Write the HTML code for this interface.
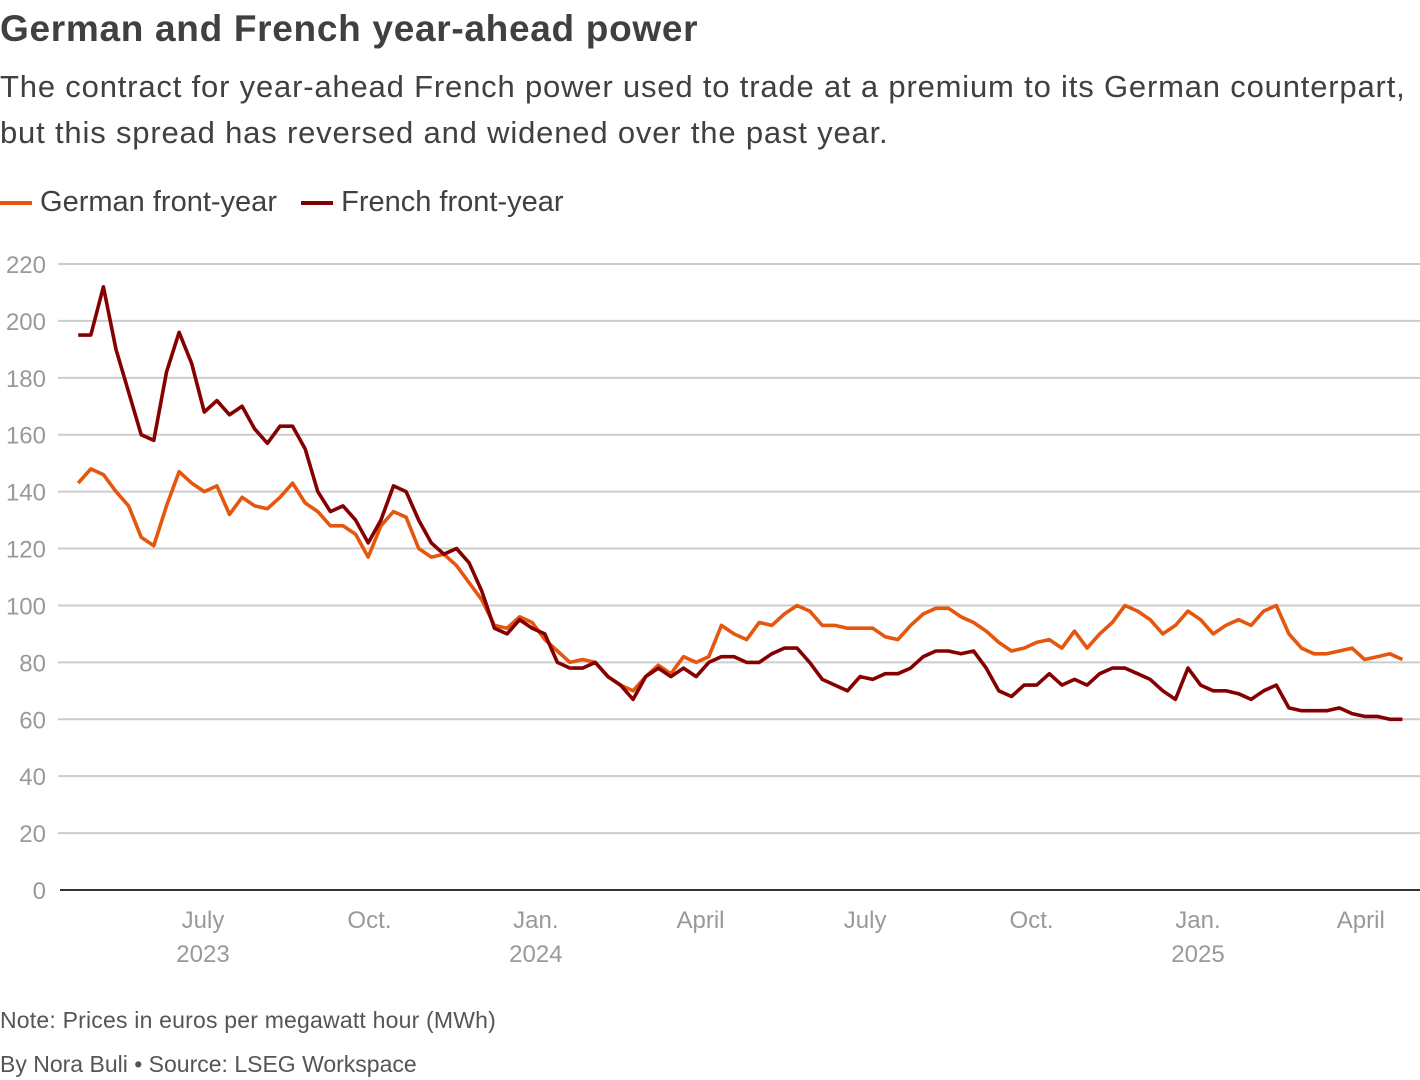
<!DOCTYPE html>
<html><head><meta charset="utf-8">
<style>
body{margin:0;width:1420px;height:1080px;background:#fff;font-family:"Liberation Sans",sans-serif;overflow:hidden;position:relative}
.t{position:absolute;left:0;white-space:nowrap}
</style></head><body>
<div class="t" style="top:8px;font-size:37px;font-weight:bold;color:#404040;letter-spacing:0.7px">German and French year-ahead power</div>
<div class="t" style="top:64px;font-size:31px;color:#404040;line-height:46px;letter-spacing:0.82px">The contract for year-ahead French power used to trade at a premium to its German counterpart,<br>but this spread has reversed and widened over the past year.</div>
<div class="t" style="top:186px;font-size:29px;color:#404040">
<span><span style="display:inline-block;width:32px;height:4px;background:#e5570f;vertical-align:middle"></span> German front-year</span>
<span style="margin-left:16px"><span style="display:inline-block;width:32px;height:4px;background:#850000;vertical-align:middle"></span> French front-year</span>
</div>
<svg id="chart" width="1420" height="1000" style="position:absolute;left:0;top:0"></svg>
<div class="t" style="top:1007px;font-size:23px;color:#555;letter-spacing:0.2px">Note: Prices in euros per megawatt hour (MWh)</div>
<div class="t" style="top:1051px;font-size:23px;color:#555">By Nora Buli • Source: LSEG Workspace</div>
<script>
const yTicks=[0,20,40,60,80,100,120,140,160,180,200,220];
const xTickLabels=[["July","2023"],["Oct.",""],["Jan.","2024"],["April",""],["July",""],["Oct.",""],["Jan.","2025"],["April",""]];
const xTickDates=["2023-07-01","2023-10-01","2024-01-01","2024-04-01","2024-07-01","2024-10-01","2025-01-01","2025-04-01"];
const startDate="2023-04-23";
const french=[195,195,212,190,175,160,158,182,196,185,168,172,167,170,162,157,163,163,155,140,133,135,130,122,130,142,140,130,122,118,120,115,105,92,90,95,92,90,80,78,78,80,75,72,67,75,78,75,78,75,80,82,82,80,80,83,85,85,80,74,72,70,75,74,76,76,78,82,84,84,83,84,78,70,68,72,72,76,72,74,72,76,78,78,76,74,70,67,78,72,70,70,69,67,70,72,64,63,63,63,64,62,61,61,60,60];
const german=[143,148,146,140,135,124,121,135,147,143,140,142,132,138,135,134,138,143,136,133,128,128,125,117,128,133,131,120,117,118,114,108,102,93,92,96,94,88,84,80,81,80,75,72,70,75,79,76,82,80,82,93,90,88,94,93,97,100,98,93,93,92,92,92,89,88,93,97,99,99,96,94,91,87,84,85,87,88,85,91,85,90,94,100,98,95,90,93,98,95,90,93,95,93,98,100,90,85,83,83,84,85,81,82,83,81];
const svg=document.getElementById('chart');
const NS='http://www.w3.org/2000/svg';
const day=864e5;
const t0=Date.parse("2023-07-01");
function xScale(ms){return 203+(ms-t0)/day*(1156/639);}
function yScale(v){return 890-v*(626/220);}
function dateAt(i){return Date.parse(startDate)+i*((Date.parse("2025-04-24")-Date.parse(startDate))/(french.length-1));}
yTicks.forEach(v=>{
 const l=document.createElementNS(NS,'line');
 
 
 l.setAttribute('x1',v===0?60:58);l.setAttribute('x2',1420);
 l.setAttribute('y1',yScale(v));l.setAttribute('y2',yScale(v));
 l.setAttribute('stroke',v===0?'#333':'#ccc');l.setAttribute('stroke-width',2);
 svg.appendChild(l);
 const t=document.createElementNS(NS,'text');
 
 
 t.setAttribute('x',46);t.setAttribute('y',yScale(v)+9);t.setAttribute('text-anchor','end');
 t.setAttribute('font-size','24');t.setAttribute('fill','#999');t.setAttribute('font-family','Liberation Sans, sans-serif');
 t.textContent=v;svg.appendChild(t);
});
xTickDates.forEach((d,i)=>{
 const x=xScale(Date.parse(d));
 xTickLabels[i].forEach((s,j)=>{
  if(!s)return;
  const t=document.createElementNS(NS,'text');
  
  
  t.setAttribute('x',x);t.setAttribute('y',928+j*34);t.setAttribute('text-anchor','middle');
  t.setAttribute('font-size','24');t.setAttribute('fill','#999');t.setAttribute('font-family','Liberation Sans, sans-serif');
  t.textContent=s;svg.appendChild(t);
 });
});
function line(data,color,name){
 const p=document.createElementNS(NS,'path');
 
 
 p.setAttribute('d',data.map((v,i)=>(i?'L':'M')+xScale(dateAt(i)).toFixed(1)+','+yScale(v).toFixed(1)).join(''));
 p.setAttribute('fill','none');p.setAttribute('stroke',color);p.setAttribute('stroke-width',3.6);p.setAttribute('stroke-linejoin','round');
 svg.appendChild(p);
}
line(german,'#e5570f','german-line');
line(french,'#850000','french-line');
</script>
</body></html>
